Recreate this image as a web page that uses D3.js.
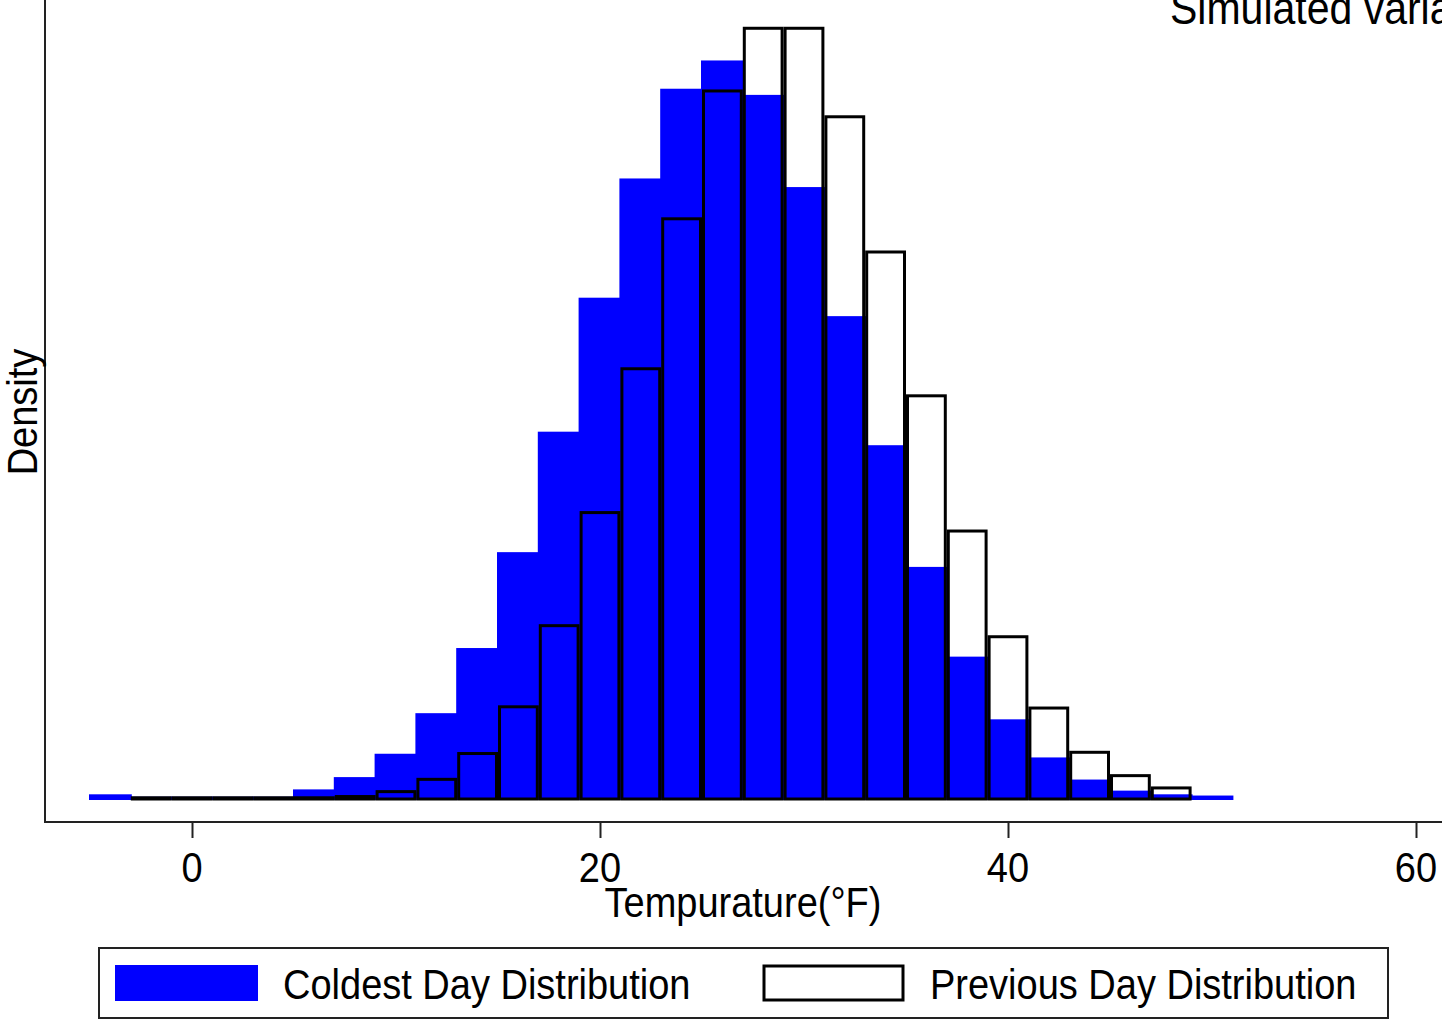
<!DOCTYPE html>
<html>
<head>
<meta charset="utf-8">
<script src="https://cdn.jsdelivr.net/npm/d3@7"></script>
<style>
  body { margin: 0; background: #fff; }
  text { font-family: "Liberation Sans", Arial, sans-serif; fill: #000; }
</style>
</head>
<body>
<svg id="chart" width="1442" height="1019"></svg>
<script>
const binWidth = 2;
const coldestStarts = d3.range(-5, 51, 2);
const coldestDensity = [0.0003, 0.0001, 0.0001, 0.0001, 0.0001, 0.0007, 0.0017, 0.0036, 0.0069, 0.0122,
    0.0200, 0.0298, 0.0407, 0.0504, 0.0577, 0.0600, 0.0572, 0.0497, 0.0392, 0.0287,
    0.0188, 0.0115, 0.0064, 0.0033, 0.0015, 0.0006, 0.0003, 0.0002];
const previousStarts = d3.range(-3, 49, 2);
const previousDensity = [0.0001, 0.0001, 0.0001, 0.0001, 0.0001, 0.0002, 0.0006, 0.0016, 0.0037, 0.0075,
    0.0141, 0.0233, 0.0350, 0.0472, 0.0576, 0.0627, 0.0627, 0.0555, 0.0445, 0.0328,
    0.0218, 0.0132, 0.0074, 0.0038, 0.0019, 0.0009];
const xTicks = [0, 20, 40, 60];
const legendLabels = ["Coldest Day Distribution", "Previous Day Distribution"];

const svg = d3.select("#chart");

var x = d3.scaleLinear().domain([0, 60]).range([192, 1416]);
var y = d3.scaleLinear().domain([0, 0.065]).range([799, 0]);

// text is a bit taller than it is wide in the original
function tallText(g, tx, ty, str, anchor, rotate, size){
    return g.append("text")
        .attr("transform", "translate(" + tx + "," + ty + ")" + (rotate ? " rotate(-90)" : "") + " scale(1,1.13)")
        .attr("text-anchor", anchor)
        .style("font-size", (size || 38) + "px")
        .text(str);
}

// coldest day bars (solid blue)
svg.append("g")
    .selectAll("rect")
    .data(coldestStarts)
    .enter()
    .append("rect")
    .attr("x", (d) => x(d))
    .attr("width", (d) => x(d + binWidth) - x(d))
    .attr("y", (d, i) => y(coldestDensity[i]))
    .attr("height", (d, i) => y(0) - y(coldestDensity[i]))
    .style("fill", "#0000ff")
    .style("stroke", "#0000ff")
    .style("stroke-width", 2);

// previous day bars (outline only)
svg.append("g")
    .selectAll("rect")
    .data(previousStarts)
    .enter()
    .append("rect")
    .attr("x", (d) => x(d) + 1.5)
    .attr("width", (d) => x(d + binWidth) - x(d) - 3)
    .attr("y", (d, i) => y(previousDensity[i]))
    .attr("height", (d, i) => y(0) - y(previousDensity[i]))
    .style("fill", "none")
    .style("stroke", "#000")
    .style("stroke-width", 3);

// axes
svg.append("line")
    .attr("x1", 45).attr("x2", 1442)
    .attr("y1", 822).attr("y2", 822)
    .style("stroke", "#222").style("stroke-width", 2);
svg.append("line")
    .attr("x1", 45).attr("x2", 45)
    .attr("y1", 0).attr("y2", 823)
    .style("stroke", "#222").style("stroke-width", 2);

const xAxis = svg.append("g")
    .attr("transform", "translate(0,822)")
    .call(d3.axisBottom(x).tickValues(xTicks).tickSize(16).tickFormat(d3.format("d")));
xAxis.select(".domain").remove();
xAxis.selectAll(".tick line").style("stroke", "#222").style("stroke-width", 2);
xAxis.selectAll(".tick text").remove();
xTicks.forEach(t => tallText(svg, x(t), 882, t, "middle"));

tallText(svg, 743, 917, "Tempurature(°F)", "middle");
tallText(svg, 37, 412, "Density", "middle", true);
tallText(svg, 1170, 24, "Simulated variation", "start", false, 41);

// legend
const legend = svg.append("g");
legend.append("rect")
    .attr("x", 99).attr("y", 948)
    .attr("width", 1289).attr("height", 70)
    .style("fill", "#fff").style("stroke", "#222").style("stroke-width", 2);
legend.append("rect")
    .attr("x", 115).attr("y", 965).attr("width", 143).attr("height", 36)
    .style("fill", "#0000ff");
legend.append("rect")
    .attr("x", 764).attr("y", 966).attr("width", 139).attr("height", 34)
    .style("fill", "none").style("stroke", "#000").style("stroke-width", 3);
tallText(legend, 283, 999, legendLabels[0], "start");
tallText(legend, 930, 999, legendLabels[1], "start");
</script>
</body>
</html>
